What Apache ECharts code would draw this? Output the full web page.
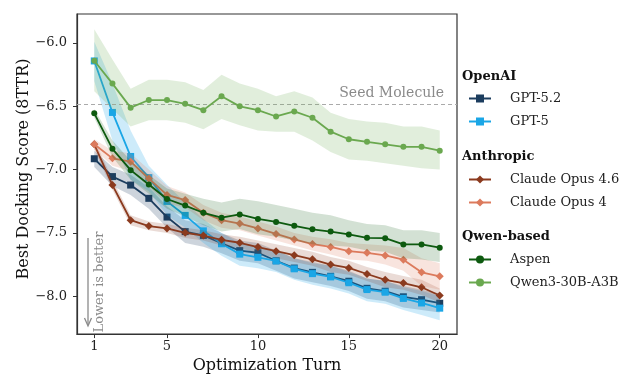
<!DOCTYPE html>
<html>
<head>
<meta charset="utf-8">
<script src="https://cdn.jsdelivr.net/npm/echarts@6/dist/echarts.min.js"></script>
<style>html,body{margin:0;padding:0;background:#fff}#c{width:625px;height:379px}</style>
</head>
<body>
<div id="c"></div>
<script>
const turns = [1,2,3,4,5,6,7,8,9,10,11,12,13,14,15,16,17,18,19,20];
const xTicks = [1,5,10,15,20];
const yTicks = [-8.0,-7.5,-7.0,-6.5,-6.0];
const seedScore = -6.48;

const gpt52 = [-6.914,-7.055,-7.122,-7.227,-7.375,-7.49,-7.52,-7.582,-7.64,-7.657,-7.72,-7.778,-7.812,-7.843,-7.882,-7.938,-7.961,-8.005,-8.028,-8.056];
const gpt52Hi = [-6.85,-6.98,-7.04,-7.14,-7.29,-7.40,-7.43,-7.50,-7.56,-7.58,-7.64,-7.70,-7.73,-7.76,-7.80,-7.86,-7.88,-7.92,-7.95,-7.98];
const gpt52Lo = [-6.98,-7.13,-7.20,-7.31,-7.46,-7.58,-7.61,-7.66,-7.72,-7.74,-7.80,-7.86,-7.89,-7.92,-7.96,-8.02,-8.04,-8.09,-8.11,-8.13];

const gpt5 = [-6.141,-6.548,-6.896,-7.063,-7.251,-7.362,-7.484,-7.586,-7.668,-7.693,-7.722,-7.784,-7.822,-7.848,-7.894,-7.948,-7.969,-8.018,-8.054,-8.095];
const gpt5Hi = [-5.99,-6.32,-6.69,-6.97,-7.12,-7.26,-7.39,-7.50,-7.58,-7.61,-7.64,-7.70,-7.74,-7.76,-7.81,-7.86,-7.88,-7.93,-7.96,-8.00];
const gpt5Lo = [-6.30,-6.77,-7.08,-7.17,-7.36,-7.46,-7.58,-7.68,-7.76,-7.78,-7.81,-7.87,-7.91,-7.94,-7.98,-8.04,-8.06,-8.11,-8.15,-8.19];

const opus46 = [-6.80,-7.122,-7.40,-7.446,-7.465,-7.499,-7.521,-7.555,-7.578,-7.612,-7.645,-7.676,-7.709,-7.75,-7.777,-7.825,-7.871,-7.897,-7.93,-7.995];
const opus46Hi = [-6.76,-7.08,-7.36,-7.41,-7.43,-7.46,-7.48,-7.51,-7.53,-7.56,-7.59,-7.62,-7.65,-7.69,-7.72,-7.77,-7.81,-7.84,-7.87,-7.94];
const opus46Lo = [-6.84,-7.16,-7.44,-7.48,-7.50,-7.54,-7.56,-7.60,-7.62,-7.66,-7.70,-7.73,-7.76,-7.81,-7.83,-7.88,-7.93,-7.95,-7.99,-8.05];

const opus4 = [-6.80,-6.911,-6.937,-7.071,-7.20,-7.241,-7.34,-7.40,-7.426,-7.465,-7.508,-7.552,-7.588,-7.611,-7.645,-7.658,-7.678,-7.712,-7.812,-7.843];
const opus4Hi = [-6.76,-6.85,-6.87,-7.00,-7.13,-7.18,-7.28,-7.34,-7.37,-7.41,-7.45,-7.50,-7.53,-7.55,-7.58,-7.59,-7.60,-7.62,-7.70,-7.74];
const opus4Lo = [-6.84,-6.97,-7.01,-7.14,-7.27,-7.30,-7.40,-7.46,-7.48,-7.52,-7.56,-7.60,-7.64,-7.67,-7.71,-7.72,-7.75,-7.80,-7.92,-7.95];

const aspen = [-6.555,-6.836,-7.004,-7.117,-7.232,-7.284,-7.341,-7.38,-7.354,-7.39,-7.413,-7.444,-7.472,-7.49,-7.512,-7.539,-7.542,-7.591,-7.591,-7.617];
const aspenHi = [-6.52,-6.77,-6.93,-7.04,-7.15,-7.19,-7.23,-7.26,-7.23,-7.25,-7.28,-7.31,-7.34,-7.36,-7.40,-7.43,-7.44,-7.48,-7.48,-7.50];
const aspenLo = [-6.59,-6.90,-7.08,-7.19,-7.31,-7.37,-7.44,-7.49,-7.47,-7.51,-7.53,-7.56,-7.59,-7.60,-7.61,-7.64,-7.65,-7.70,-7.71,-7.73];

const qwen = [-6.14,-6.32,-6.51,-6.45,-6.45,-6.48,-6.53,-6.42,-6.50,-6.53,-6.58,-6.54,-6.59,-6.70,-6.76,-6.78,-6.80,-6.82,-6.82,-6.85];
const qwenHi = [-5.89,-6.13,-6.36,-6.29,-6.29,-6.31,-6.37,-6.25,-6.32,-6.36,-6.42,-6.38,-6.43,-6.55,-6.60,-6.62,-6.63,-6.66,-6.66,-6.69];
const qwenLo = [-6.38,-6.52,-6.66,-6.61,-6.61,-6.63,-6.68,-6.60,-6.65,-6.69,-6.70,-6.70,-6.77,-6.86,-6.92,-6.93,-6.95,-6.97,-6.99,-7.00];

const models = [
  {name:'GPT-5.2', color:'#1c3d5e', symbol:'rect', size:7, mean:gpt52, hi:gpt52Hi, lo:gpt52Lo, alpha:0.22},
  {name:'GPT-5', color:'#1aa6e6', symbol:'rect', size:7, mean:gpt5, hi:gpt5Hi, lo:gpt5Lo, alpha:0.22},
  {name:'Claude Opus 4.6', color:'#8b3a1e', symbol:'diamond', size:[8,8], mean:opus46, hi:opus46Hi, lo:opus46Lo, alpha:0.18},
  {name:'Claude Opus 4', color:'#dc7a5c', symbol:'diamond', size:[8,8], mean:opus4, hi:opus4Hi, lo:opus4Lo, alpha:0.2},
  {name:'Aspen', color:'#0d5a0f', symbol:'circle', size:6, mean:aspen, hi:aspenHi, lo:aspenLo, alpha:0.18},
  {name:'Qwen3-30B-A3B', color:'#6aa84f', symbol:'circle', size:6, mean:qwen, hi:qwenHi, lo:qwenLo, alpha:0.2}
];

const FONT = 'DejaVu Serif';
const series = [];
models.forEach((m, k) => {
  series.push({
    type:'custom', name:m.name + ' band', silent:true, z:1 + k*2,
    data: turns.map((t,i)=>[t, m.mean[i]]),
    renderItem: (params, api) => {
      if (params.dataIndex !== 0) return null;
      const pts = [];
      for (let i=0;i<turns.length;i++) pts.push(api.coord([turns[i], m.hi[i]]));
      for (let i=turns.length-1;i>=0;i--) pts.push(api.coord([turns[i], m.lo[i]]));
      return {type:'polygon', shape:{points:pts}, style:{fill:m.color, opacity:m.alpha}};
    }
  });
  series.push({
    type:'line', name:m.name, z:2 + k*2,
    data: turns.map((t,i)=>[t, m.mean[i]]),
    symbol:m.symbol, symbolSize:m.size, showSymbol:true,
    lineStyle:{color:m.color, width:1.8},
    itemStyle:{color:m.color},
    emphasis:{disabled:true},
    animation:false
  });
});
series.push({
  type:'line', name:'seed', data:[], silent:true, z:0,
  markLine:{
    silent:true, symbol:'none', animation:false,
    lineStyle:{color:'#aaaaaa', type:[4,3], width:1},
    label:{show:true, position:'insideEndTop', formatter:'Seed Molecule', color:'#8a8a8a', fontFamily:FONT, fontSize:14, distance:[13,3]},
    data:[{yAxis:seedScore}]
  }
});

function legendFor(names, top){
  return {
    data:names, orient:'vertical', left:468, top:top, padding:0, itemGap:10, itemWidth:22, itemHeight:10,
    textStyle:{fontFamily:FONT, fontSize:13, color:'#222', padding:[0,0,0,14]},
    selectedMode:false
  };
}

const chart = echarts.init(document.getElementById('c'), null, {renderer:'canvas'});
chart.setOption({
  animation:false,
  backgroundColor:'#fff',
  grid:{left:77, right:168, top:14, bottom:37, show:true, borderColor:'#333', borderWidth:1.2},
  xAxis:{
    type:'value', min:0.05, max:20.95,
    name:'Optimization Turn', nameLocation:'middle', nameGap:21,
    nameTextStyle:{fontFamily:FONT, fontSize:16, color:'#111'},
    axisLine:{show:true, lineStyle:{color:'#333', width:1.2}},
    axisTick:{show:true, customValues:xTicks, length:4, lineStyle:{color:'#333'}},
    axisLabel:{customValues:xTicks, fontFamily:FONT, fontSize:13, color:'#222', margin:6},
    splitLine:{show:false}
  },
  yAxis:{
    type:'value', min:-8.3, max:-5.77,
    axisLine:{show:true, lineStyle:{color:'#333', width:1.2}},
    axisTick:{show:true, customValues:yTicks, length:4, lineStyle:{color:'#333'}},
    axisLabel:{customValues:yTicks, fontFamily:FONT, fontSize:13, color:'#222', margin:10,
      formatter:v => (v<0?'\u2212':'') + Math.abs(v).toFixed(1)},
    splitLine:{show:false}
  },
  legend:[
    legendFor(['GPT-5.2','GPT-5'], 92),
    legendFor(['Claude Opus 4.6','Claude Opus 4'], 173),
    legendFor(['Aspen','Qwen3-30B-A3B'], 253)
  ],
  graphic:[
    {type:'text', left:462, top:70, style:{text:'OpenAI', font:'bold 13px "DejaVu Serif"', fill:'#111'}},
    {type:'text', left:462, top:150, style:{text:'Anthropic', font:'bold 13px "DejaVu Serif"', fill:'#111'}},
    {type:'text', left:462, top:230, style:{text:'Qwen-based', font:'bold 13px "DejaVu Serif"', fill:'#111'}},
    {type:'text', x:24, y:169, rotation:Math.PI/2, style:{text:'Best Docking Score (8TTR)', font:'16px "DejaVu Serif"', fill:'#111', align:'center', verticalAlign:'middle'}},
    {type:'text', x:100, y:282, rotation:Math.PI/2, style:{text:'Lower is better', font:'13px "DejaVu Serif"', fill:'#8a8a8a', align:'center', verticalAlign:'middle'}},
    {type:'line', shape:{x1:88, y1:238, x2:88, y2:325}, style:{stroke:'#8a8a8a', lineWidth:1.3}},
    {type:'polyline', shape:{points:[[84.5,318],[88,326],[91.5,318]]}, style:{stroke:'#8a8a8a', lineWidth:1.3, fill:null}}
  ],
  series:series
});
</script>
</body>
</html>
